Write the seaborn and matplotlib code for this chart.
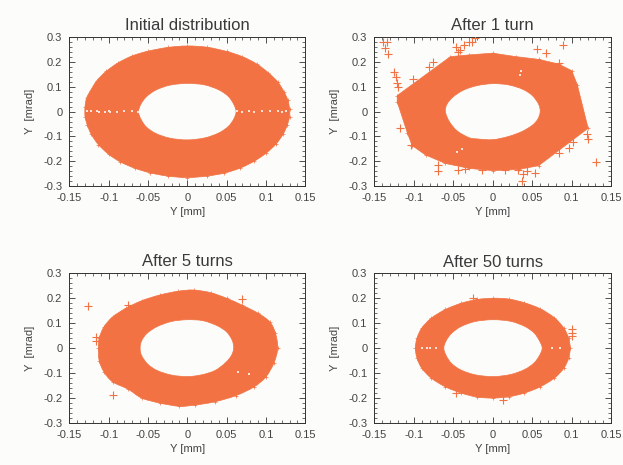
import numpy as np
import pandas as pd
import matplotlib
matplotlib.use("Agg")
import matplotlib.pyplot as plt
from matplotlib.path import Path
from matplotlib.patches import PathPatch
from matplotlib.ticker import MultipleLocator, FuncFormatter
import seaborn as sns

ORANGE = "#F27243"
BG = "#FCFCFA"
INK = "#444444"

titles = ["Initial distribution", "After 1 turn", "After 5 turns", "After 50 turns"]
x_ticks = [-0.15, -0.1, -0.05, 0, 0.05, 0.1, 0.15]
y_ticks = [-0.3, -0.2, -0.1, 0, 0.1, 0.2, 0.3]

# Boundaries of the particle clouds (x [mm], y [mrad])
outer_0 = [(-.130,.020),(-.128,.055),(-.123,.085),(-.115,.125),(-.103,.163),(-.088,.197),(-.07,.225),(-.05,.244),
           (-.025,.259),(0,.265),(.025,.26),(.05,.243),(.07,.222),(.088,.193),(.103,.157),(.115,.12),(.123,.08),
           (.128,.045),(.13,.01),(.13,-.02),(.127,-.055),(.122,-.09),(.113,-.13),(.1,-.168),(.085,-.2),(.067,-.228),
           (.047,-.248),(.025,-.26),(0,-.266),(-.025,-.26),(-.047,-.247),(-.067,-.228),(-.085,-.203),(-.1,-.172),
           (-.113,-.133),(-.122,-.092),(-.127,-.055),(-.13,-.02)]
inner_0 = [(-.062,0),(-.059,.03),(-.052,.06),(-.04,.087),(-.022,.107),(0,.114),(.022,.108),(.04,.088),(.052,.062),
           (.059,.03),(.062,0),(.059,-.03),(.052,-.06),(.04,-.086),(.022,-.106),(0,-.114),(-.022,-.107),(-.04,-.088),
           (-.052,-.062),(-.059,-.03)]
stray_0 = []
gaps_0 = [(-.127,.003),(-.122,.002),(-.115,.003),(-.112,0),(-.105,-.002),(-.1,.002),(-.098,-.002),(-.09,-.002),(-.08,.001),
          (-.07,.001),(-.063,-.002),(.063,.001),(.07,0),(.078,.001),(.085,-.002),(.095,.001),(.105,.001),(.115,.001),
          (.12,-.002),(.125,.001)]

outer_1 = [(-.121,.065),(-.0536,.222),(-.03,.229),(0,.236),(.029,.222),(.058,.211),(.0835,.192),(.1,.165),(.107,.108),
           (.1207,-.067),(.058,-.218),(.033,-.233),(0,-.238),(-.03,-.229),(-.06,-.209),(-.085,-.175),(-.102,-.137),
           (-.108,-.087),(-.121,.04)]
inner_1 = [(-.06,0),(-.058,.03),(-.05,.06),(-.037,.087),(-.02,.105),(0,.113),(.02,.108),(.038,.09),(.05,.065),(.058,.03),
           (.06,0),(.057,-.03),(.05,-.055),(.037,-.08),(.02,-.1),(0,-.113),(-.02,-.11),(-.03,-.105),(-.045,-.078),
           (-.055,-.04)]
stray_1 = [(-.139,.283),(-.134,.283),(-.137,.256),(-.1325,.232),(-.125,.159),(-.123,.139),(-.121,.114),(-.12,.101),
           (-.101,.132),(-.081,.182),(-.076,.202),(-.046,.262),(-.044,.242),(-.041,.249),(-.036,.269),(-.03,.283),
           (-.026,.283),(-.023,.296),(.056,.252),(.067,.238),(.089,.269),(.084,.195),(-.118,-.065),(-.104,-.135),
           (-.069,-.215),(-.069,-.24),(-.044,-.235),(-.035,-.233),(-.0135,-.235),(.015,-.235),(.032,-.235),
           (.038,-.253),(.037,-.279),(.043,-.24),(.054,-.246),(.084,-.168),(.097,-.148),(.102,-.121),(.119,-.091),
           (.121,-.112),(.131,-.202)]
gaps_1 = [(.036,.165),(.035,.148),(-.039,-.15),(-.045,-.163)]

outer_2 = [(-.113,0),(-.112,.04),(-.106,.085),(-.095,.125),(-.078,.16),(-.058,.19),(-.035,.213),(-.012,.228),(.008,.233),
           (.03,.222),(.05,.2),(.07,.172),(.09,.14),(.105,.105),(.112,.06),(.115,0),(.11,-.06),(.1,-.115),(.085,-.155),
           (.062,-.19),(.035,-.215),(.01,-.228),(-.01,-.233),(-.035,-.22),(-.058,-.2),(-.075,-.165),(-.095,-.135),
           (-.106,-.095),(-.112,-.05)]
inner_2 = [(-.06,0),(-.058,.03),(-.051,.06),(-.038,.087),(-.02,.107),(0,.114),(.02,.11),(.038,.09),(.05,.065),(.057,.032),
           (.059,0),(.056,-.03),(.048,-.06),(.035,-.09),(.018,-.107),(0,-.114),(-.02,-.108),(-.038,-.09),(-.05,-.065),
           (-.058,-.03)]
stray_2 = [(-.126,.17),(-.116,.043),(-.116,.028),(-.095,-.187),(.07,.198),(-.075,.172)]
gaps_2 = [(.065,-.095),(.078,-.105)]

outer_3 = [(-.098,0),(-.096,.04),(-.09,.08),(-.078,.12),(-.06,.155),(-.04,.18),(-.02,.195),(0,.2),(.02,.197),(.04,.182),
           (.06,.158),(.078,.122),(.09,.08),(.096,.04),(.098,0),(.096,-.04),(.09,-.08),(.078,-.12),(.06,-.155),(.04,-.18),
           (.02,-.195),(0,-.2),(-.02,-.196),(-.04,-.18),(-.06,-.155),(-.078,-.12),(-.09,-.08),(-.096,-.04)]
inner_3 = [(-.062,0),(-.059,.03),(-.052,.06),(-.04,.087),(-.022,.107),(0,.114),(.022,.108),(.04,.088),(.052,.062),
           (.059,.03),(.0625,0),(.059,-.03),(.052,-.06),(.04,-.086),(.022,-.106),(0,-.114),(-.022,-.107),(-.04,-.088),
           (-.052,-.062),(-.059,-.03)]
stray_3 = [(-.025,.202),(.1,.076),(.1,.061),(.1,.049),(-.047,-.179),(.013,-.207)]
gaps_3 = [(-.09,.001),(-.083,-.001),(-.08,.002),(-.072,0),(.075,.001),(.085,.001)]

outers = [outer_0, outer_1, outer_2, outer_3]
inners = [inner_0, inner_1, inner_2, inner_3]
strays = [stray_0, stray_1, stray_2, stray_3]
gaps = [gaps_0, gaps_1, gaps_2, gaps_3]

sns.set_theme(style="ticks", rc={"font.family": ["Liberation Sans", "DejaVu Sans"]})
W, H = 623, 465
fig = plt.figure(figsize=(W / 100, H / 100), dpi=100, facecolor=BG)

boxes = [(69.3, 37.3, 305.3, 186), (374.3, 37.3, 611.3, 186),
         (69.3, 273.3, 305.3, 423), (374.3, 273.3, 611.3, 423)]
title_y = [26, 26, 261, 262]
outer_tension = [1 / 6, 0, 1 / 6, 1 / 6]


def fmt(v, _):
    return "0" if abs(v) < 1e-9 else f"{v:g}"


def smooth_ring(pts, k, reverse=False):
    """Closed Bezier path through the read points (a curve drawn through them, no new data)."""
    p = np.array(pts[::-1] if reverse else pts, dtype=float)
    n = len(p)
    verts, codes = [tuple(p[0])], [Path.MOVETO]
    for j in range(n):
        p0, p1, p2, p3 = p[j - 1], p[j], p[(j + 1) % n], p[(j + 2) % n]
        verts += [tuple(p1 + (p2 - p0) * k), tuple(p2 - (p3 - p1) * k), tuple(p2)]
        codes += [Path.CURVE4] * 3
    verts.append(tuple(p[0]))
    codes.append(Path.CLOSEPOLY)
    return verts, codes


for i, (l, t, r, b) in enumerate(boxes):
    ax = fig.add_axes([l / W, 1 - b / H, (r - l) / W, (b - t) / H], facecolor=BG)
    v1, c1 = smooth_ring(outers[i], outer_tension[i])
    v2, c2 = smooth_ring(inners[i], 1 / 6, reverse=True)
    ax.add_patch(PathPatch(Path(v1 + v2, c1 + c2), facecolor=ORANGE, edgecolor=ORANGE, lw=0.5, zorder=2))

    edge = pd.DataFrame(outers[i], columns=["x", "y"])
    sns.scatterplot(data=edge, x="x", y="y", marker="+", s=7, color=ORANGE, linewidth=0.5, ax=ax, zorder=3, legend=False)
    if strays[i]:
        st = pd.DataFrame(strays[i], columns=["x", "y"])
        sns.scatterplot(data=st, x="x", y="y", marker="+", s=28, color=ORANGE, linewidth=0.8, ax=ax, zorder=3, legend=False)
    if gaps[i]:
        gp = pd.DataFrame(gaps[i], columns=["x", "y"])
        sns.scatterplot(data=gp, x="x", y="y", marker="s", s=2, color="#FBE3D8", linewidth=0, ax=ax, zorder=4, legend=False)

    ax.set_xlim(-0.15, 0.15)
    ax.set_ylim(-0.3, 0.3)
    ax.set_xticks(x_ticks)
    ax.set_yticks(y_ticks)
    ax.xaxis.set_major_formatter(FuncFormatter(fmt))
    ax.yaxis.set_major_formatter(FuncFormatter(fmt))
    ax.xaxis.set_minor_locator(MultipleLocator(0.01))
    ax.yaxis.set_minor_locator(MultipleLocator(0.02))
    ax.tick_params(axis="both", which="major", direction="in", length=4, width=0.6, top=True, right=True,
                   labelsize=8, colors="#333333", labelcolor=INK, pad=5)
    ax.tick_params(axis="both", which="minor", direction="in", length=2, width=0.5, top=True, right=True, colors="#333333")
    for s in ax.spines.values():
        s.set_visible(True)
        s.set_linewidth(0.7)
        s.set_color("#333333")
    ax.set_xlabel("Y [mm]", fontsize=8, color=INK, labelpad=3)
    ax.set_ylabel("Y  [mrad]", fontsize=8, color=INK, labelpad=6)
    fig.text((l + r) / 2 / W, 1 - title_y[i] / H, titles[i], ha="center", va="center", fontsize=12, color="#3a3a3a")

fig.savefig("out.png", dpi=100, facecolor=BG)
